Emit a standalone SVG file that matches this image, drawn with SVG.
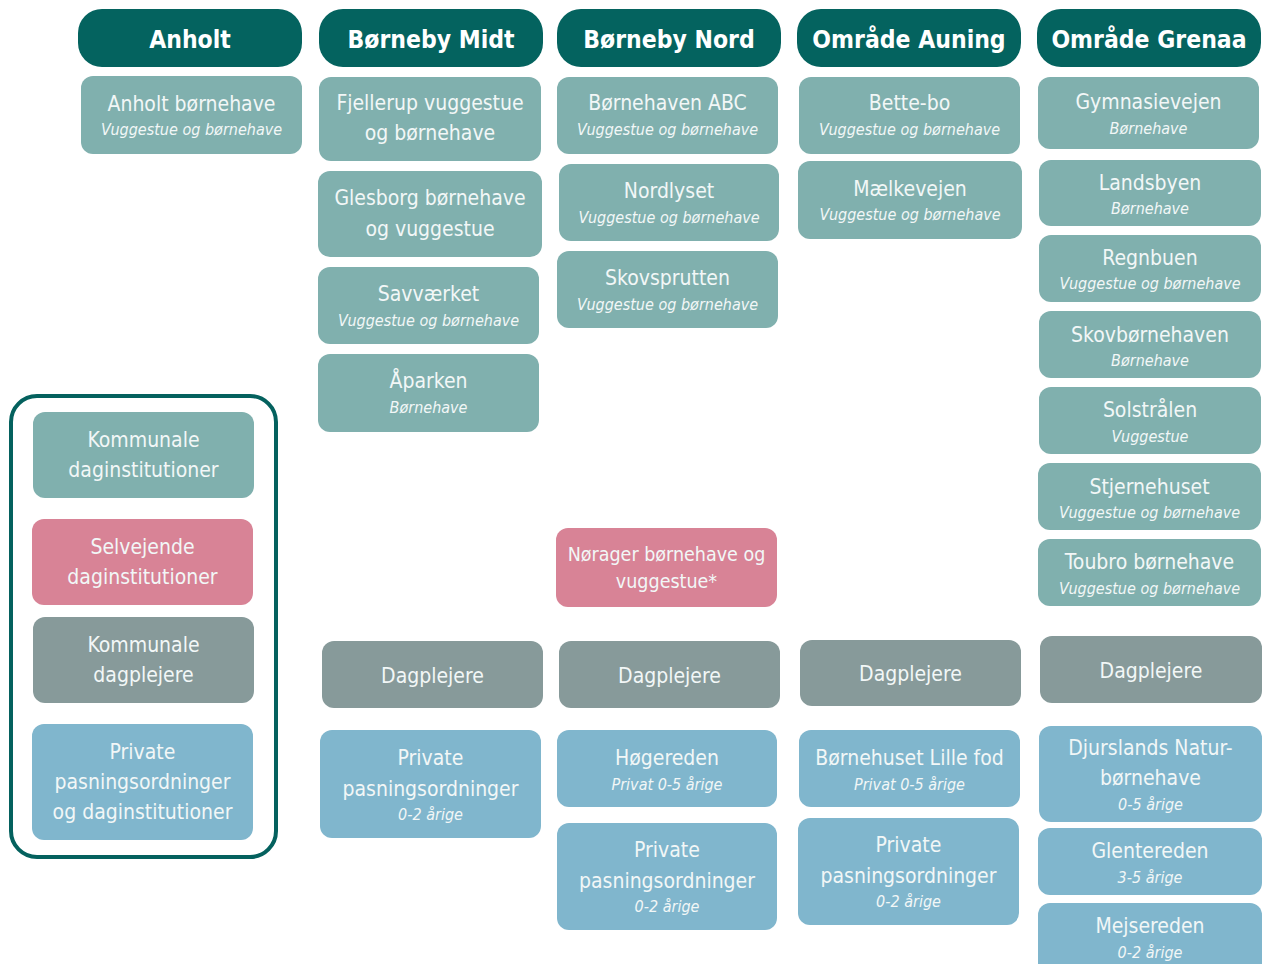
<svg xmlns="http://www.w3.org/2000/svg" width="1262" height="964" viewBox="0 0 1262 964">
<style>
text{font-family:"DejaVu Sans Condensed","DejaVu Sans",sans-serif;font-stretch:condensed;fill:#f2f7f7;text-anchor:middle}
.h rect{fill:#04635f}
.h text{font-size:24.5px;font-weight:bold;fill:#ffffff}
.k rect{fill:#80b0ae}
.s rect{fill:#d88396}
.d rect{fill:#879a9a}
.p rect{fill:#80b6cd}
.t{font-size:21px}
.i{font-size:16px;font-style:italic}
</style>
<rect width="1262" height="964" fill="#ffffff"/>
<g id="connectors"/>
<!-- headers -->
<g id="h-anholt" class="h"><rect x="78" y="9" width="224" height="58" rx="24"/><text x="190" y="48">Anholt</text></g>
<g id="h-midt" class="h"><rect x="319" y="9" width="224" height="58" rx="24"/><text x="431" y="48">Børneby Midt</text></g>
<g id="h-nord" class="h"><rect x="557" y="9" width="224" height="58" rx="24"/><text x="669" y="48">Børneby Nord</text></g>
<g id="h-auning" class="h"><rect x="797" y="9" width="224" height="58" rx="24"/><text x="909" y="48">Område Auning</text></g>
<g id="h-grenaa" class="h"><rect x="1037" y="9" width="224" height="58" rx="24"/><text x="1149" y="48">Område Grenaa</text></g>
<!-- Anholt -->
<g id="anholt-bh" class="k"><rect x="81" y="76" width="221" height="78" rx="12"/><text class="t" x="191.5" y="111">Anholt børnehave</text><text class="i" x="191.5" y="135">Vuggestue og børnehave</text></g>
<!-- Børneby Midt -->
<g id="fjellerup" class="k"><rect x="319" y="77" width="222" height="84" rx="12"/><text class="t" x="430" y="110">Fjellerup vuggestue</text><text class="t" x="430" y="140">og børnehave</text></g>
<g id="glesborg" class="k"><rect x="318" y="171" width="224" height="86" rx="12"/><text class="t" x="430" y="205">Glesborg børnehave</text><text class="t" x="430" y="236">og vuggestue</text></g>
<g id="savvaerket" class="k"><rect x="318" y="267" width="221" height="77" rx="12"/><text class="t" x="428.5" y="301">Savværket</text><text class="i" x="428.5" y="326">Vuggestue og børnehave</text></g>
<g id="aparken" class="k"><rect x="318" y="354" width="221" height="78" rx="12"/><text class="t" x="428.5" y="388">Åparken</text><text class="i" x="428.5" y="413">Børnehave</text></g>
<!-- Børneby Nord -->
<g id="abc" class="k"><rect x="557" y="77" width="221" height="77" rx="12"/><text class="t" x="667.5" y="110">Børnehaven ABC</text><text class="i" x="667.5" y="135">Vuggestue og børnehave</text></g>
<g id="nordlyset" class="k"><rect x="559" y="164" width="220" height="77" rx="12"/><text class="t" x="669" y="198">Nordlyset</text><text class="i" x="669" y="223">Vuggestue og børnehave</text></g>
<g id="skovsprutten" class="k"><rect x="557" y="251" width="221" height="77" rx="12"/><text class="t" x="667.5" y="285">Skovsprutten</text><text class="i" x="667.5" y="310">Vuggestue og børnehave</text></g>
<g id="noerager" class="s"><rect x="556" y="528" width="221" height="79" rx="12"/><text class="t" style="font-size:19.5px" x="666.5" y="561">Nørager børnehave og</text><text class="t" style="font-size:19.5px" x="666.5" y="588">vuggestue*</text></g>
<!-- Område Auning -->
<g id="bettebo" class="k"><rect x="799" y="77" width="221" height="77" rx="12"/><text class="t" x="909.5" y="110">Bette-bo</text><text class="i" x="909.5" y="135">Vuggestue og børnehave</text></g>
<g id="maelkevejen" class="k"><rect x="798" y="161" width="224" height="78" rx="12"/><text class="t" x="910" y="196">Mælkevejen</text><text class="i" x="910" y="220">Vuggestue og børnehave</text></g>
<!-- Område Grenaa -->
<g id="gymnasievejen" class="k"><rect x="1038" y="77" width="221" height="72" rx="12"/><text class="t" x="1148.5" y="109">Gymnasievejen</text><text class="i" x="1148.5" y="134">Børnehave</text></g>
<g id="landsbyen" class="k"><rect x="1039" y="160" width="222" height="66" rx="12"/><text class="t" x="1150" y="190">Landsbyen</text><text class="i" x="1150" y="214">Børnehave</text></g>
<g id="regnbuen" class="k"><rect x="1039" y="235" width="222" height="67" rx="12"/><text class="t" x="1150" y="265">Regnbuen</text><text class="i" x="1150" y="289">Vuggestue og børnehave</text></g>
<g id="skovbornehaven" class="k"><rect x="1039" y="311" width="222" height="67" rx="12"/><text class="t" x="1150" y="342">Skovbørnehaven</text><text class="i" x="1150" y="366">Børnehave</text></g>
<g id="solstralen" class="k"><rect x="1039" y="387" width="222" height="67" rx="12"/><text class="t" x="1150" y="417">Solstrålen</text><text class="i" x="1150" y="442">Vuggestue</text></g>
<g id="stjernehuset" class="k"><rect x="1038" y="463" width="223" height="67" rx="12"/><text class="t" x="1149.5" y="494">Stjernehuset</text><text class="i" x="1149.5" y="518">Vuggestue og børnehave</text></g>
<g id="toubro" class="k"><rect x="1038" y="539" width="223" height="67" rx="12"/><text class="t" x="1149.5" y="569">Toubro børnehave</text><text class="i" x="1149.5" y="594">Vuggestue og børnehave</text></g>
<!-- Dagplejere -->
<g id="dag-midt" class="d"><rect x="322" y="641" width="221" height="67" rx="12"/><text class="t" x="432.5" y="683">Dagplejere</text></g>
<g id="dag-nord" class="d"><rect x="559" y="641" width="221" height="67" rx="12"/><text class="t" x="669.5" y="683">Dagplejere</text></g>
<g id="dag-auning" class="d"><rect x="800" y="640" width="221" height="66" rx="12"/><text class="t" x="910.5" y="681">Dagplejere</text></g>
<g id="dag-grenaa" class="d"><rect x="1040" y="636" width="222" height="67" rx="12"/><text class="t" x="1151" y="678">Dagplejere</text></g>
<!-- Private -->
<g id="priv-midt" class="p"><rect x="320" y="730" width="221" height="108" rx="12"/><text class="t" x="430.5" y="765">Private</text><text class="t" x="430.5" y="796">pasningsordninger</text><text class="i" x="430.5" y="820">0-2 årige</text></g>
<g id="hogereden" class="p"><rect x="557" y="730" width="220" height="77" rx="12"/><text class="t" x="667" y="765">Høgereden</text><text class="i" x="667" y="790">Privat 0-5 årige</text></g>
<g id="priv-nord" class="p"><rect x="557" y="823" width="220" height="107" rx="12"/><text class="t" x="667" y="857">Private</text><text class="t" x="667" y="888">pasningsordninger</text><text class="i" x="667" y="912">0-2 årige</text></g>
<g id="lillefod" class="p"><rect x="799" y="730" width="221" height="77" rx="12"/><text class="t" x="909.5" y="765">Børnehuset Lille fod</text><text class="i" x="909.5" y="790">Privat 0-5 årige</text></g>
<g id="priv-auning" class="p"><rect x="798" y="818" width="221" height="107" rx="12"/><text class="t" x="908.5" y="852">Private</text><text class="t" x="908.5" y="883">pasningsordninger</text><text class="i" x="908.5" y="907">0-2 årige</text></g>
<g id="djurslands" class="p"><rect x="1039" y="726" width="223" height="96" rx="12"/><text class="t" x="1150.5" y="755">Djurslands Natur-</text><text class="t" x="1150.5" y="785">børnehave</text><text class="i" x="1150.5" y="810">0-5 årige</text></g>
<g id="glentereden" class="p"><rect x="1038" y="828" width="224" height="67" rx="12"/><text class="t" x="1150" y="858">Glentereden</text><text class="i" x="1150" y="883">3-5 årige</text></g>
<g id="mejsereden" class="p"><rect x="1038" y="903" width="224" height="75" rx="12"/><text class="t" x="1150" y="933">Mejsereden</text><text class="i" x="1150" y="958">0-2 årige</text></g>
<!-- Legend -->
<g id="legend">
<rect x="11" y="396" width="265" height="461" rx="26" fill="none" stroke="#04615e" stroke-width="4"/>
<g id="leg-kommunale" class="k"><rect x="33" y="412" width="221" height="86" rx="12"/><text class="t" x="143.5" y="447">Kommunale</text><text class="t" x="143.5" y="477">daginstitutioner</text></g>
<g id="leg-selvejende" class="s"><rect x="32" y="519" width="221" height="86" rx="12"/><text class="t" x="142.5" y="554">Selvejende</text><text class="t" x="142.5" y="584">daginstitutioner</text></g>
<g id="leg-dagplejere" class="d"><rect x="33" y="617" width="221" height="86" rx="12"/><text class="t" x="143.5" y="652">Kommunale</text><text class="t" x="143.5" y="682">dagplejere</text></g>
<g id="leg-private" class="p"><rect x="32" y="724" width="221" height="116" rx="12"/><text class="t" x="142.5" y="759">Private</text><text class="t" x="142.5" y="789">pasningsordninger</text><text class="t" x="142.5" y="819">og daginstitutioner</text></g>
</g>
</svg>
